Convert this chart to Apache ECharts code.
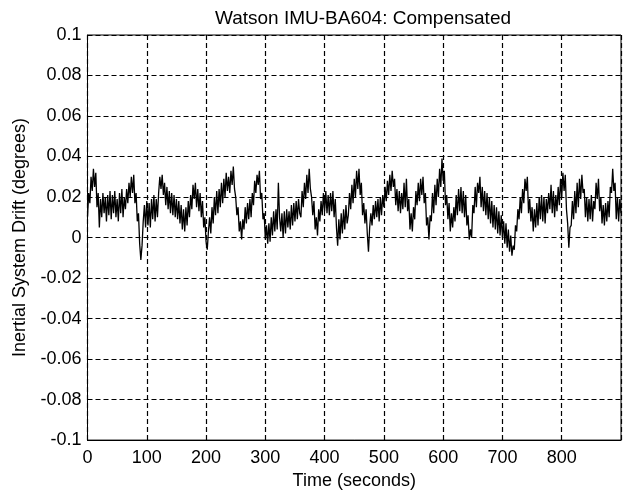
<!DOCTYPE html>
<html><head><meta charset="utf-8">
<script src="https://cdn.jsdelivr.net/npm/echarts@6/dist/echarts.min.js"></script>
<style>html,body{margin:0;padding:0;background:#fff}#c{width:624px;height:495px}</style>
</head><body><div id="c"></div>
<script>
const chartTitle = 'Watson IMU-BA604: Compensated';
const xAxisName = 'Time (seconds)';
const yAxisName = 'Inertial System Drift (degrees)';
const xTicks = [0, 100, 200, 300, 400, 500, 600, 700, 800, 900];
const yTicks = [-0.1, -0.08, -0.06, -0.04, -0.02, 0, 0.02, 0.04, 0.06, 0.08, 0.1];
const sampleStartSeconds = 0;
const sampleStepSeconds = 2;
// drift, in millidegrees, one value every 2 s
const driftMilliDeg = [
10,22,17,30,23,34,25,32,15,22,
5,19,10,22,12,20,8,21,11,23,
9,21,12,23,10,19,8,22,12,24,
10,20,14,24,17,27,20,30,22,31,
17,22,8,12,-3,-11,-4,8,16,5,
18,6,17,5,19,9,21,8,19,10,
22,30,24,31,21,27,16,25,14,23,
12,22,11,21,10,19,9,18,7,16,
4,14,3,15,6,18,10,21,14,26,
19,27,15,24,13,22,10,18,5,10,
-2,-6,3,10,2,15,7,20,11,23,
12,24,15,27,17,29,20,32,23,30,
22,33,26,35,24,20,11,15,3,8,
-1,9,4,15,7,17,9,19,10,22,
16,28,22,31,26,33,19,22,9,12,
-1,6,-3,7,-2,10,1,13,3,14,
4,27,10,3,12,0,13,2,14,5,
13,4,16,6,17,8,18,9,19,12,
10,23,15,27,19,31,22,34,24,20,
11,18,4,10,1,14,8,18,11,22,
13,23,12,21,11,22,13,23,10,19,
5,-4,9,-1,12,2,14,4,16,7,
11,22,14,26,17,29,20,33,24,34,
21,27,11,17,7,14,2,-7,5,12,
6,16,9,18,10,19,8,20,11,21,
15,25,18,28,21,31,23,33,25,29,
16,24,13,23,12,22,14,27,15,29,
13,19,4,12,3,15,9,23,16,27,
18,29,21,30,17,22,6,10,-1,11,
8,22,12,26,16,29,20,34,25,39,
28,33,16,21,9,17,3,12,5,15,
8,21,11,24,13,25,12,23,10,21,
6,11,-1,4,0,16,12,25,15,27,
22,30,15,25,13,23,11,22,9,20,
7,18,5,16,4,15,2,13,1,11,
0,8,-3,7,-5,4,-7,1,-9,-4,
-6,6,3,14,9,20,12,24,17,29,
23,30,12,19,8,15,3,14,5,17,
6,20,9,21,8,20,7,19,12,22,
14,26,12,23,10,21,13,25,16,29,
20,32,23,31,14,7,-5,5,6,18,
9,23,12,27,15,29,19,31,22,24,
10,20,8,19,9,21,8,18,14,27,
19,29,13,20,7,16,6,17,8,18,
10,25,22,34,23,27,9,20,8,19,
12
];

const seriesData = driftMilliDeg.map((v, i) => [sampleStartSeconds + i * sampleStepSeconds, v / 1000]);
const font = '"Liberation Sans", Arial, Helvetica, sans-serif';
const chart = echarts.init(document.getElementById('c'), null, {renderer: 'canvas'});
chart.setOption({
  animation: false,
  backgroundColor: '#fff',
  title: {
    text: chartTitle, left: 358, top: 4, textAlign: 'center',
    textStyle: {fontFamily: font, fontSize: 19, fontWeight: 'normal', color: '#000'}
  },
  grid: {left: 87.5, top: 35, width: 537, height: 408, show: true, borderColor: '#000', borderWidth: 1, backgroundColor: 'transparent'},
  xAxis: {
    type: 'value', min: xTicks[0], max: xTicks[xTicks.length - 1], interval: 100,
    name: xAxisName, nameLocation: 'middle', nameGap: 30,
    nameTextStyle: {fontFamily: font, fontSize: 18, color: '#000'},
    axisLine: {onZero: false, lineStyle: {color: '#000', width: 1}},
    axisTick: {inside: true, length: 4, lineStyle: {color: '#000'}},
    axisLabel: {fontFamily: font, fontSize: 18, color: '#000', margin: 9,
      formatter: v => (v === 900 ? '' : String(v))},
    splitLine: {show: true, lineStyle: {color: '#000', width: 1.2, type: [5, 3]}}
  },
  yAxis: {
    type: 'value', min: yTicks[0], max: yTicks[yTicks.length - 1], interval: 0.02,
    name: yAxisName, nameLocation: 'middle', nameGap: 58,
    nameTextStyle: {fontFamily: font, fontSize: 18, color: '#000'},
    axisLine: {show: true, onZero: false, lineStyle: {color: '#000', width: 1}},
    axisTick: {show: true, inside: true, length: 4, lineStyle: {color: '#000'}},
    axisLabel: {fontFamily: font, fontSize: 18, color: '#000', margin: 6,
      formatter: v => String(parseFloat(v.toFixed(2)) || 0)},
    splitLine: {show: true, lineStyle: {color: '#000', width: 1.2, type: [5, 3]}}
  },
  series: [{
    type: 'line', data: seriesData, showSymbol: false, symbol: 'none',
    lineStyle: {color: '#000', width: 1.3}, clip: true
  }]
});
</script>
</body></html>
